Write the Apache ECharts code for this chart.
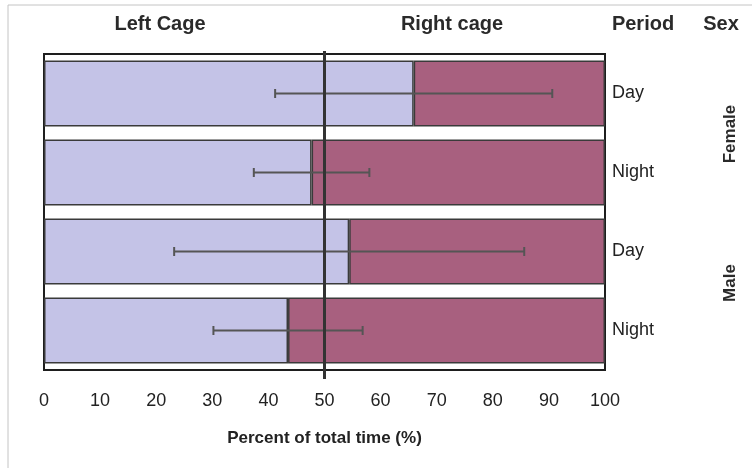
<!DOCTYPE html>
<html>
<head>
<meta charset="utf-8">
<script src="https://cdn.jsdelivr.net/npm/echarts@6/dist/echarts.min.js"></script>
<style>
  html, body { margin: 0; padding: 0; background: #ffffff; }
  #chart { width: 754px; height: 468px; }
</style>
</head>
<body>
<div id="chart"></div>
<script>
// Share of time spent in each cage, by sex and period (rows top to bottom)
const periods = ['Day', 'Night', 'Day', 'Night'];
const sexes = ['Female', 'Male'];
const leftCagePct = [65.9, 47.7, 54.4, 43.5];
const rightCagePct = [34.1, 52.3, 45.6, 56.5];
const errHalfWidth = [24.7, 10.3, 31.2, 13.3];
const referencePct = 50;
const xTicks = { min: 0, max: 100, interval: 10 };

const LAVENDER = '#c4c3e7';
const MAUVE = '#a8607f';
const FONT = '"Liberation Sans", Arial, sans-serif';

const chart = echarts.init(document.getElementById('chart'), null, { renderer: 'canvas' });

const errData = leftCagePct.map((v, i) => [i, v - errHalfWidth[i], v + errHalfWidth[i]]);

const option = {
  backgroundColor: '#ffffff',
  animation: false,
  grid: {
    left: 44, right: 149, top: 54, bottom: 98,
    show: true, borderColor: '#1e1e1e', borderWidth: 2, backgroundColor: 'transparent'
  },
  xAxis: {
    type: 'value',
    min: xTicks.min, max: xTicks.max, interval: xTicks.interval,
    name: 'Percent of total time (%)',
    nameLocation: 'middle',
    nameGap: 60,
    nameTextStyle: { fontFamily: FONT, fontSize: 17, fontWeight: 'bold', color: '#222' },
    axisLine: { show: false },
    axisTick: { show: false },
    splitLine: { show: false },
    axisLabel: { fontFamily: FONT, fontSize: 18, color: '#222', margin: 22 }
  },
  yAxis: {
    type: 'category',
    data: periods,
    inverse: true,
    position: 'right',
    axisLine: { show: false },
    axisTick: { show: false },
    splitLine: { show: false },
    axisLabel: { fontFamily: FONT, fontSize: 18, color: '#222', margin: 7 }
  },
  series: [
    {
      name: 'Left Cage',
      type: 'bar',
      stack: 'cage',
      barWidth: 66,
      data: leftCagePct,
      itemStyle: { color: LAVENDER, borderColor: '#3a3a3a', borderWidth: 1.5 },
      emphasis: { disabled: true }
    },
    {
      name: 'Right cage',
      type: 'bar',
      stack: 'cage',
      barWidth: 66,
      data: rightCagePct,
      itemStyle: { color: MAUVE, borderColor: '#3a3a3a', borderWidth: 1.5 },
      emphasis: { disabled: true }
    },
    {
      name: 'error',
      type: 'custom',
      data: errData,
      encode: { x: [1, 2], y: 0 },
      z: 5,
      renderItem: function (params, api) {
        const cat = api.value(0);
        const lo = api.coord([api.value(1), cat]);
        const hi = api.coord([api.value(2), cat]);
        const cap = 4.5;
        const style = { stroke: '#555', lineWidth: 2 };
        return {
          type: 'group',
          children: [
            { type: 'line', shape: { x1: lo[0], y1: lo[1], x2: hi[0], y2: hi[1] }, style: style },
            { type: 'line', shape: { x1: lo[0], y1: lo[1] - cap, x2: lo[0], y2: lo[1] + cap }, style: style },
            { type: 'line', shape: { x1: hi[0], y1: hi[1] - cap, x2: hi[0], y2: hi[1] + cap }, style: style }
          ]
        };
      }
    },
    {
      name: 'reference',
      type: 'custom',
      data: [[referencePct, 0]],
      encode: { x: 0, y: 1 },
      z: 6,
      clip: false,
      renderItem: function (params, api) {
        const p = api.coord([api.value(0), 0]);
        const cs = params.coordSys;
        return {
          type: 'line',
          shape: { x1: p[0], y1: cs.y - 3, x2: p[0], y2: cs.y + cs.height + 9 },
          style: { stroke: '#333', lineWidth: 3 }
        };
      }
    }
  ],
  graphic: [
    { type: 'line', shape: { x1: 8, y1: 5, x2: 752, y2: 5 }, style: { stroke: '#c4c4c4', lineWidth: 1 }, silent: true },
    { type: 'line', shape: { x1: 8, y1: 5, x2: 8, y2: 468 }, style: { stroke: '#c4c4c4', lineWidth: 1 }, silent: true },
    { type: 'text', x: 160, y: 24, style: { text: 'Left Cage', fontFamily: FONT, fontSize: 20, fontWeight: 'bold', fill: '#2a2a2a', align: 'center', verticalAlign: 'middle' } },
    { type: 'text', x: 452, y: 24, style: { text: 'Right cage', fontFamily: FONT, fontSize: 20, fontWeight: 'bold', fill: '#2a2a2a', align: 'center', verticalAlign: 'middle' } },
    { type: 'text', x: 643, y: 24, style: { text: 'Period', fontFamily: FONT, fontSize: 20, fontWeight: 'bold', fill: '#2a2a2a', align: 'center', verticalAlign: 'middle' } },
    { type: 'text', x: 721, y: 24, style: { text: 'Sex', fontFamily: FONT, fontSize: 20, fontWeight: 'bold', fill: '#2a2a2a', align: 'center', verticalAlign: 'middle' } },
    { type: 'text', x: 730, y: 134, rotation: Math.PI / 2, style: { text: sexes[0], fontFamily: FONT, fontSize: 17, fontWeight: 'bold', fill: '#2a2a2a', align: 'center', verticalAlign: 'middle' } },
    { type: 'text', x: 730, y: 283, rotation: Math.PI / 2, style: { text: sexes[1], fontFamily: FONT, fontSize: 17, fontWeight: 'bold', fill: '#2a2a2a', align: 'center', verticalAlign: 'middle' } }
  ]
};

chart.setOption(option);
</script>
</body>
</html>
